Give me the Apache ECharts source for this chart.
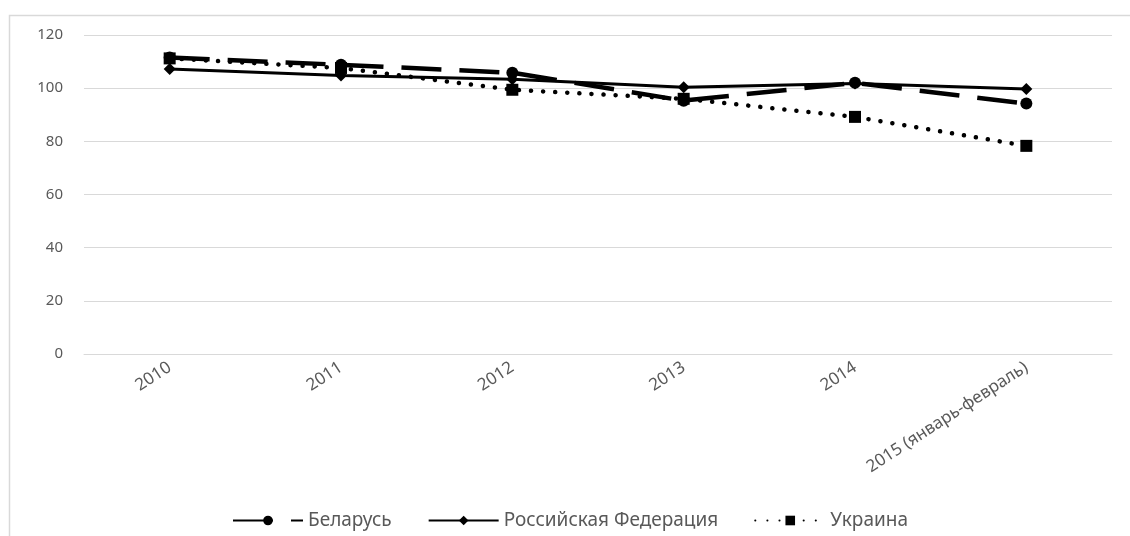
<!DOCTYPE html>
<html><head><meta charset="utf-8">
<script src="https://cdn.jsdelivr.net/npm/echarts@6/dist/echarts.min.js"></script>
<style>html,body{margin:0;padding:0;background:#fff}#c{width:1130px;height:536px}</style>
</head><body><div id="c"></div>
<script>
var categories = ['2010','2011','2012','2013','2014','2015 (январь-февраль)'];
var belarus = [111.5, 108.8, 105.8, 95.3, 102.0, 94.2];
var russia = [107.2, 104.8, 103.4, 100.3, 101.8, 99.7];
var ukraine = [111.2, 107.6, 99.4, 96.0, 89.2, 78.3];
var yTicks = [0, 20, 40, 60, 80, 100, 120];

var chart = echarts.init(document.getElementById('c'));
var txt = '#595959';
chart.setOption({
  animation: false,
  graphic: [{type:'rect', shape:{x:9.5,y:15.5,width:1130,height:540}, style:{fill:'none', stroke:'#d9d9d9', lineWidth:1.5}, silent:true}],
  grid: {left: 84, right: 18, top: 35, bottom: 182},
  legend: {
    top: 506, left: 227, itemWidth: 70, itemHeight: 12, itemGap: 36,
    textStyle: {color: txt, fontFamily: 'Noto Sans', fontSize: 19},
    data: ['Беларусь', 'Российская Федерация', 'Украина']
  },
  xAxis: {
    type: 'category', data: categories, boundaryGap: true,
    axisLine: {lineStyle: {color: '#d9d9d9'}}, axisTick: {show: false},
    axisLabel: {rotate: 33, color: txt, fontFamily: 'Noto Sans', fontSize: 17, margin: 12, interval: 0}
  },
  yAxis: {
    type: 'value', min: yTicks[0], max: yTicks[yTicks.length-1], interval: 20,
    axisLine: {show: false}, axisTick: {show: false},
    axisLabel: {color: txt, fontFamily: 'Noto Sans', fontSize: 15, margin: 21},
    splitLine: {lineStyle: {color: '#d9d9d9'}}
  },
  series: [
    {name: 'Беларусь', type: 'line', data: belarus, symbol: 'circle', symbolSize: 12,
     itemStyle: {color: '#000'}, lineStyle: {color: '#000', width: 4.5, type: [40, 18]}},
    {name: 'Российская Федерация', type: 'line', data: russia, symbol: 'diamond', symbolSize: 12,
     itemStyle: {color: '#000'}, lineStyle: {color: '#000', width: 3, type: 'solid'}},
    {name: 'Украина', type: 'line', data: ukraine, symbol: 'rect', symbolSize: 12,
     itemStyle: {color: '#000'}, lineStyle: {color: '#000', width: 4.5, type: [0.1, 12], cap: 'round'}}
  ]
});
</script></body></html>
